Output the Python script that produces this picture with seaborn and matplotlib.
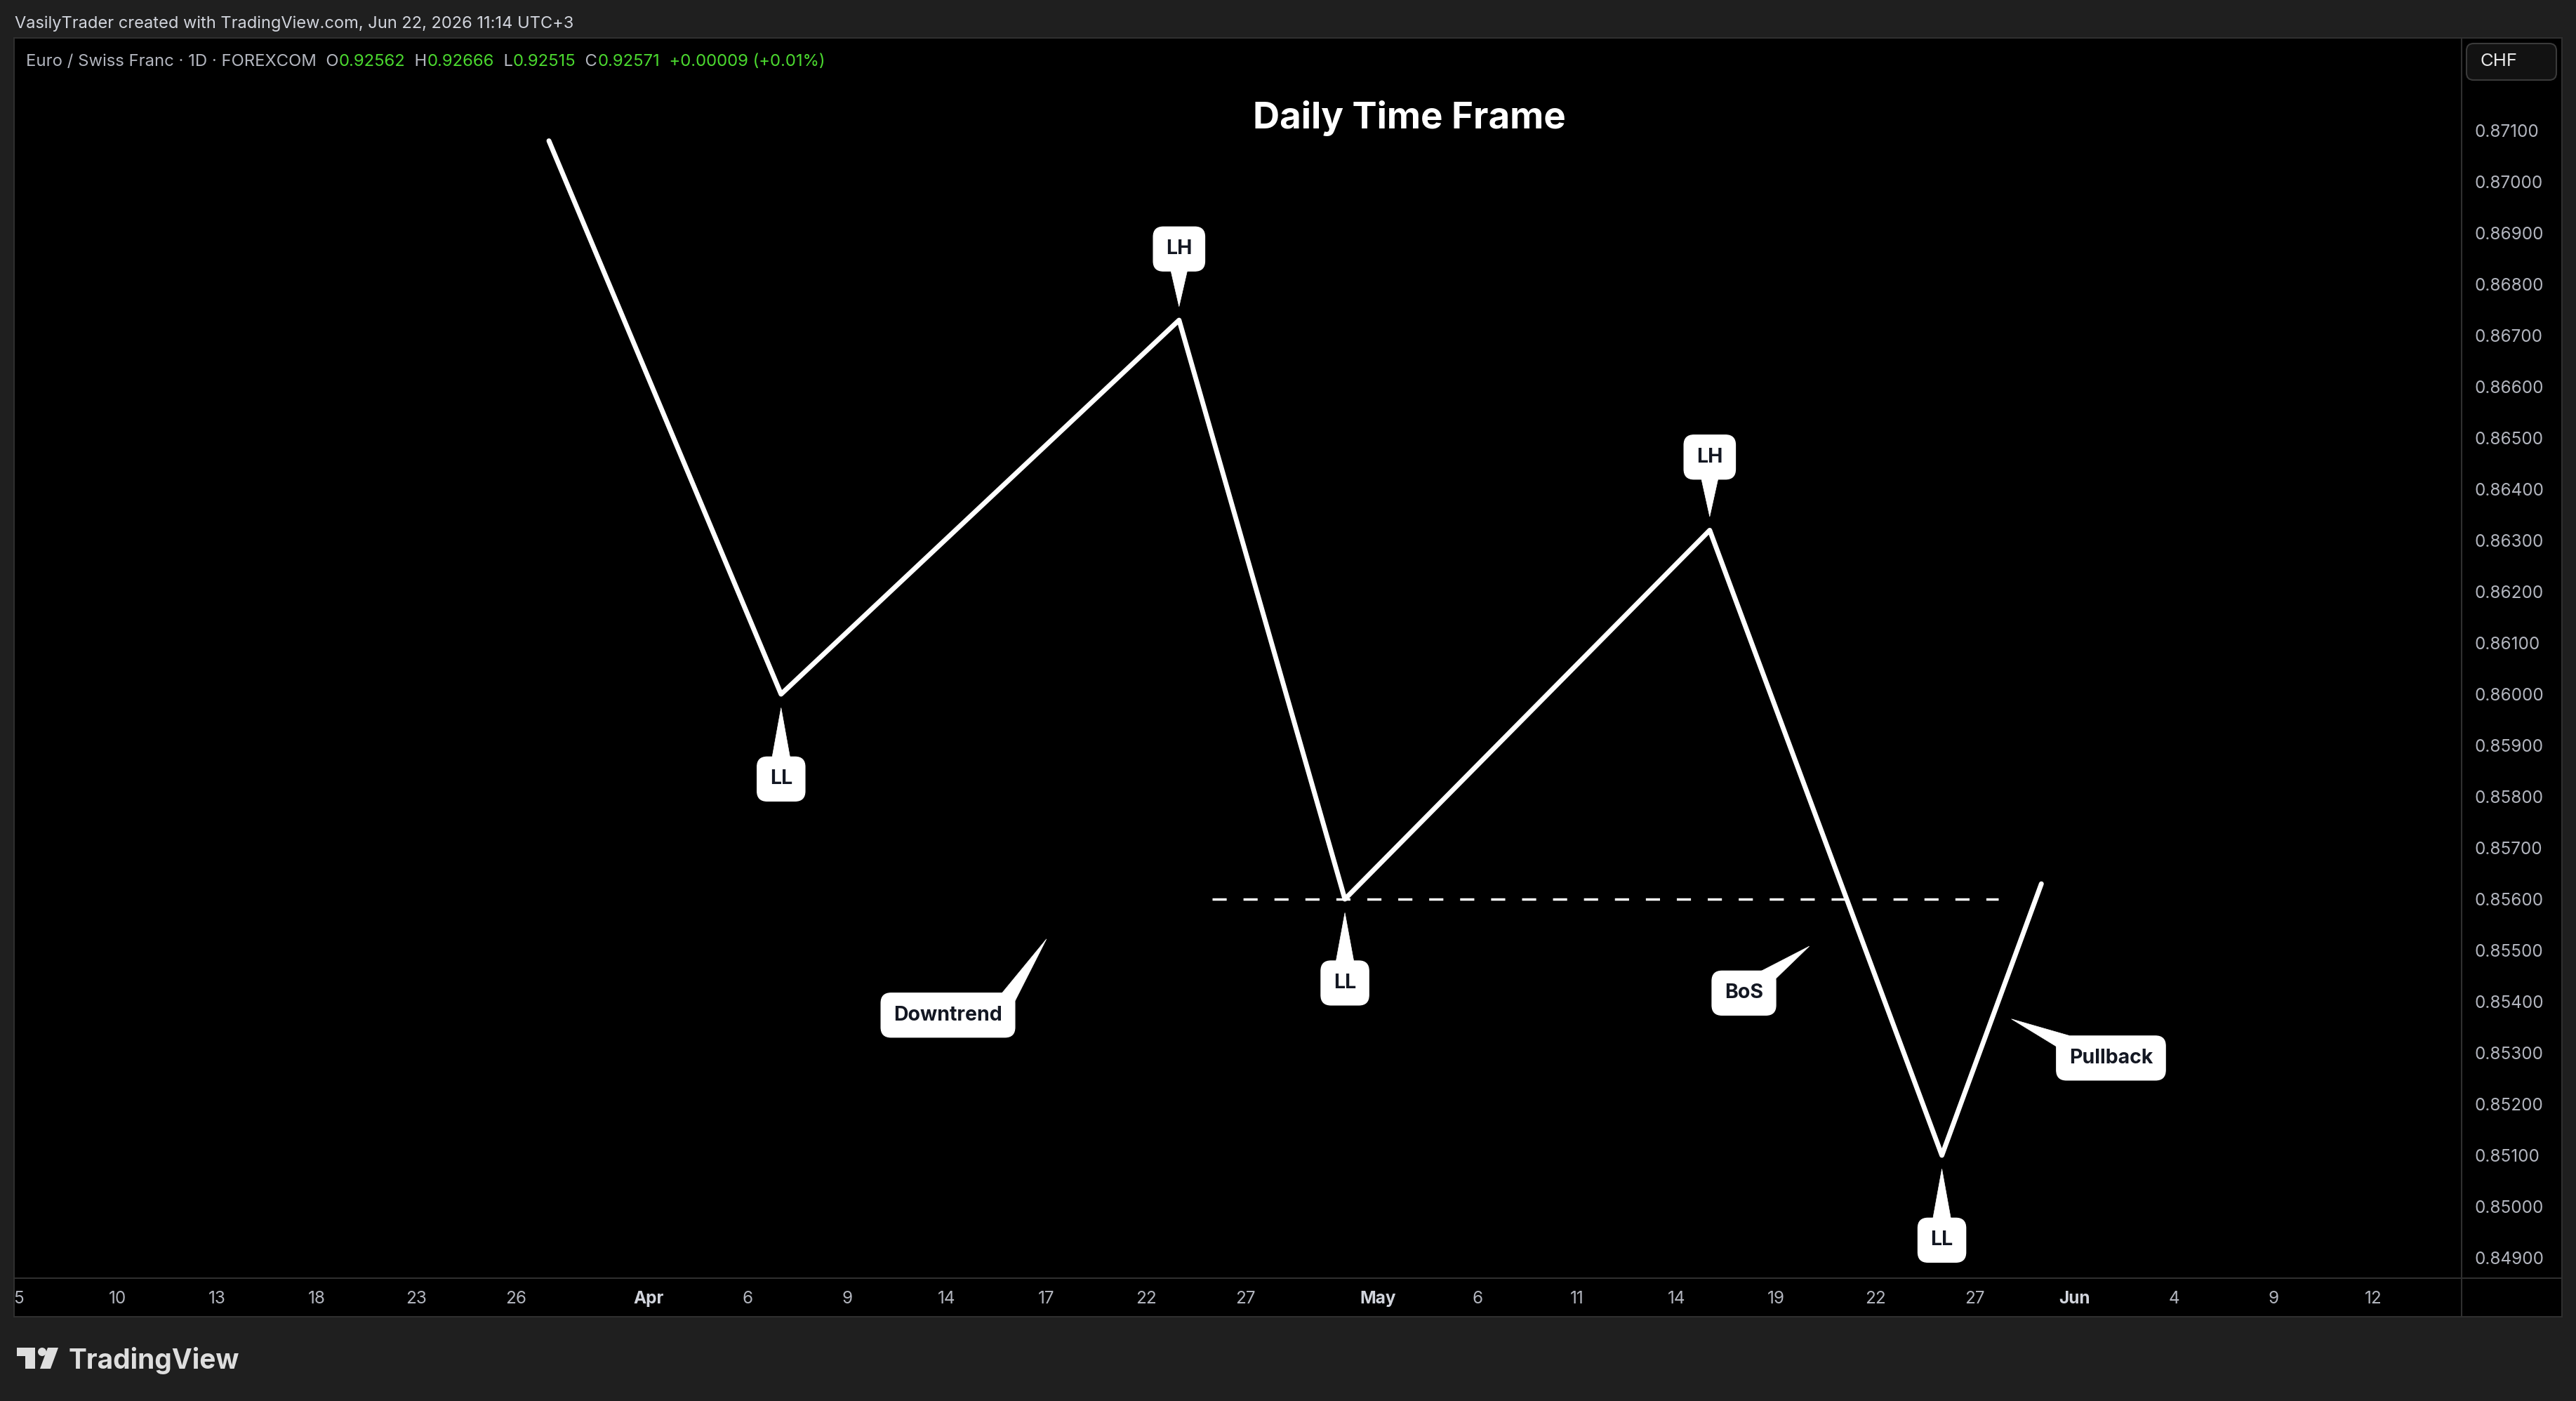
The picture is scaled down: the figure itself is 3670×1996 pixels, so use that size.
import numpy as np
import pandas as pd
import seaborn as sns
import matplotlib.pyplot as plt
from matplotlib.patches import Rectangle, FancyBboxPatch, Circle, Polygon
from matplotlib.lines import Line2D
from matplotlib.ticker import FormatStrFormatter
from matplotlib.transforms import IdentityTransform

# swing points of the drawn path (bar index, price)
swing_bar = [16, 23, 35, 40, 51, 58, 61]
swing_price = [0.8708, 0.8600, 0.8673, 0.8560, 0.8632, 0.8510, 0.8563]

# break of structure level
bos_level = 0.8560
bos_from = 36
bos_to = 59.7

# date axis (trading-day index -> label)
date_bar = [0, 3, 6, 9, 12, 15, 19, 22, 25, 28, 31, 34, 37, 41, 44, 47, 50, 53, 56, 59, 62, 65, 68, 71]
date_text = ["5", "10", "13", "18", "23", "26", "Apr", "6", "9", "14", "17", "22", "27",
             "May", "6", "11", "14", "19", "22", "27", "Jun", "4", "9", "12"]
month_text = ["Apr", "May", "Jun"]

# price axis
price_ticks = [0.849, 0.850, 0.851, 0.852, 0.853, 0.854, 0.855, 0.856, 0.857, 0.858, 0.859, 0.860,
               0.861, 0.862, 0.863, 0.864, 0.865, 0.866, 0.867, 0.868, 0.869, 0.870, 0.871]

# callouts: text, pointed bar, pointed price
note_text = ["LL", "LH", "LL", "LH", "LL", "Downtrend", "BoS", "Pullback"]
note_bar = [23, 35, 40, 51, 58, 31.0, 54.0, 60.1]
note_price = [0.8600, 0.8673, 0.8560, 0.8632, 0.8510, 0.85522, 0.85508, 0.85366]

# legend strip
legend_parts = ["Euro / Swiss Franc · 1D · FOREXCOM  O", "0.92562", "  H", "0.92666", "  L",
                "0.92515", "  C", "0.92571", "  +0.00009 (+0.01%)"]

W, H = 3670, 1996
BG = "#1f1f1f"
GRID = "#2f2f2f"
TXT = "#b2b5be"
GREEN = "#4bd92f"

sns.set_theme(style="dark")
plt.rcParams["font.family"] = ["Inter", "DejaVu Sans"]

fig = plt.figure(figsize=(W / 100, H / 100), dpi=100, facecolor=BG)

# black panel with outer border
fig.add_artist(Rectangle((20 / W, 1 - 1876 / H), 3630 / W, 1822 / H, transform=fig.transFigure,
                         fc="black", ec=GRID, lw=1.5, zorder=-1))

ax = fig.add_axes([20 / W, 1 - 1821 / H, 3487 / W, 1767 / H])
ax.set_facecolor("black")
for s in ax.spines.values():
    s.set_color(GRID)
    s.set_linewidth(1.5)

df = pd.DataFrame({"bar": swing_bar, "price": swing_price})
sns.lineplot(data=df, x="bar", y="price", ax=ax, color="white", linewidth=5, sort=False,
             estimator=None, solid_capstyle="round", solid_joinstyle="round")

ax.plot([bos_from, bos_to], [bos_level, bos_level], color="white", lw=2.5,
        linestyle=(0, (5.8, 6.9)), dash_capstyle="butt")

# callouts
offs = [(0, -87), (0, 73), (0, -86), (0, 75), (0, -87), (-101, -78), (-67, -48), (102, -40)]
rels = [(0.5, 0.9), (0.5, 0.1), (0.5, 0.9), (0.5, 0.1), (0.5, 0.9), (1.04, 1.3), (1.05, 1.3), (-0.04, 1.3)]
tails = [1.15, 1.15, 1.15, 1.15, 1.15, 0.8, 0.8, 0.8]
shrink = [14, 14, 14, 14, 14, 0, 0, 0]
for t, b, p, o, r, tw, sb in zip(note_text, note_bar, note_price, offs, rels, tails, shrink):
    ax.annotate(t, xy=(b, p), xytext=o, textcoords="offset points", ha="center", va="center",
                fontsize=20.5, fontweight="bold", color="#131722",
                bbox=dict(boxstyle="round,pad=0.63,rounding_size=0.5", fc="white", ec="white"),
                arrowprops=dict(arrowstyle=f"wedge,tail_width={tw},shrink_factor=0.5",
                                fc="white", ec="white", lw=0.5, relpos=r, patchA=None,
                                shrinkA=0, shrinkB=sb))

ax.set_xlim(-0.127, 73.67)
ax.set_ylim(0.848603, 0.872808)
ax.set_xlabel("")
ax.set_ylabel("")
ax.grid(False)

ax.yaxis.tick_right()
ax.set_yticks(price_ticks)
ax.yaxis.set_major_formatter(FormatStrFormatter("%.5f"))
ax.set_xticks(date_bar)
ax.set_xticklabels(date_text)
ax.tick_params(axis="both", length=0, colors=TXT, labelsize=17.5)
ax.tick_params(axis="y", pad=13)
ax.tick_params(axis="x", pad=13)
for lab in ax.get_xticklabels():
    if lab.get_text() in month_text:
        lab.set_fontweight("bold")
        lab.set_color("#d1d4dc")

# separators in the axis strips
fig.add_artist(Line2D([3507 / W, 3507 / W], [1 - 1821 / H, 1 - 1876 / H], color=GRID, lw=1.5,
                      transform=fig.transFigure))
fig.add_artist(Line2D([3507 / W, 3650 / W], [1 - 1821 / H, 1 - 1821 / H], color=GRID, lw=1.5,
                      transform=fig.transFigure))

# header
fig.text(21 / W, 1 - 34 / H, "VasilyTrader created with TradingView.com, Jun 22, 2026 11:14 UTC+3",
         color="#d1d4dc", fontsize=17, va="center", ha="left")

# legend line, each piece placed right after the previous one
prev = fig.text(37 / W, 1 - 88 / H, legend_parts[0], color=TXT, fontsize=17.2, va="center", ha="left")
for i, part in enumerate(legend_parts[1:], start=1):
    col = GREEN if (i % 2 == 1 or i == len(legend_parts) - 1) else TXT
    prev = fig.add_artist(plt.Annotation(part, xy=(1, 0), xycoords=prev, va="bottom", ha="left",
                                         color=col, fontsize=17.2))

fig.text(2008 / W, 1 - 168 / H, "Daily Time Frame", color="white", fontsize=38,
         fontweight="bold", ha="center", va="center")

# currency box
fig.add_artist(FancyBboxPatch((3514, H - 114), 128, 52, boxstyle="round,pad=0,rounding_size=10",
                              transform=IdentityTransform(), fc="#121212", ec="#3a3a3a", lw=1.5))
fig.text(3533 / W, 1 - 88 / H, "CHF", color="#e8e8e8", fontsize=18.5, va="center", ha="left")

# logo
lc = "#dedede"
fig.add_artist(Rectangle((24, H - 1932), 26, 12, transform=IdentityTransform(), fc=lc, ec="none"))
fig.add_artist(Rectangle((36, H - 1950), 14, 30, transform=IdentityTransform(), fc=lc, ec="none"))
fig.add_artist(Circle((60, H - 1926), 6, transform=IdentityTransform(), fc=lc, ec="none"))
fig.add_artist(Polygon([(68, H - 1920), (83, H - 1920), (72, H - 1950), (57, H - 1950)],
                       transform=IdentityTransform(), fc=lc, ec="none"))
fig.text(98 / W, 1 - 1950 / H, "TradingView", color=lc, fontsize=28, fontweight="bold",
         va="baseline", ha="left")

fig.savefig("out.png", dpi=100, facecolor=BG)
